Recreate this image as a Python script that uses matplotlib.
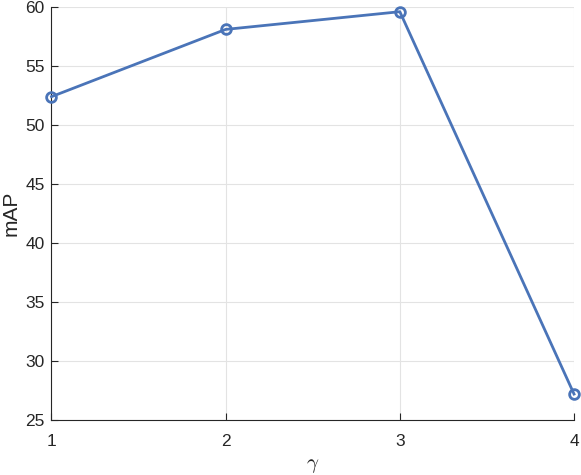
import matplotlib
matplotlib.use("Agg")
import matplotlib.pyplot as plt

gamma = [1, 2, 3, 4]
mAP = [52.4, 58.1, 59.6, 27.2]
xticks = [1, 2, 3, 4]
yticks = [25, 30, 35, 40, 45, 50, 55, 60]

plt.rcParams['font.family'] = ['Liberation Sans', 'DejaVu Sans']
plt.rcParams['mathtext.fontset'] = 'cm'

fig = plt.figure(figsize=(5.81, 4.75), dpi=100)
ax = fig.add_axes([0.0886, 0.1158, 0.8994, 0.8695])
line_color = '#4a74b8'
ax.plot(gamma, mAP, color=line_color, linewidth=2, marker='o', markersize=7,
        markerfacecolor='none', markeredgewidth=2, clip_on=False, zorder=3)
ax.set_xlim(1, 4)
ax.set_ylim(25, 60)
ax.set_xticks(xticks)
ax.set_yticks(yticks)
ax.grid(True, color='#e3e3e3', linewidth=0.8)
ax.set_axisbelow(True)
for s in ['top', 'right']:
    ax.spines[s].set_visible(False)
for s in ['left', 'bottom']:
    ax.spines[s].set_color('#262626')
    ax.spines[s].set_linewidth(0.8)
ax.tick_params(direction='in', length=5, width=0.8, colors='#262626', labelsize=12.5, pad=5)
ax.tick_params(axis='x', pad=10)
ax.set_xlabel(r'$\gamma$', fontsize=15, color='#262626', labelpad=5)
ax.set_ylabel('mAP', fontsize=15, color='#262626', labelpad=3)
fig.savefig('out.png', dpi=100)
